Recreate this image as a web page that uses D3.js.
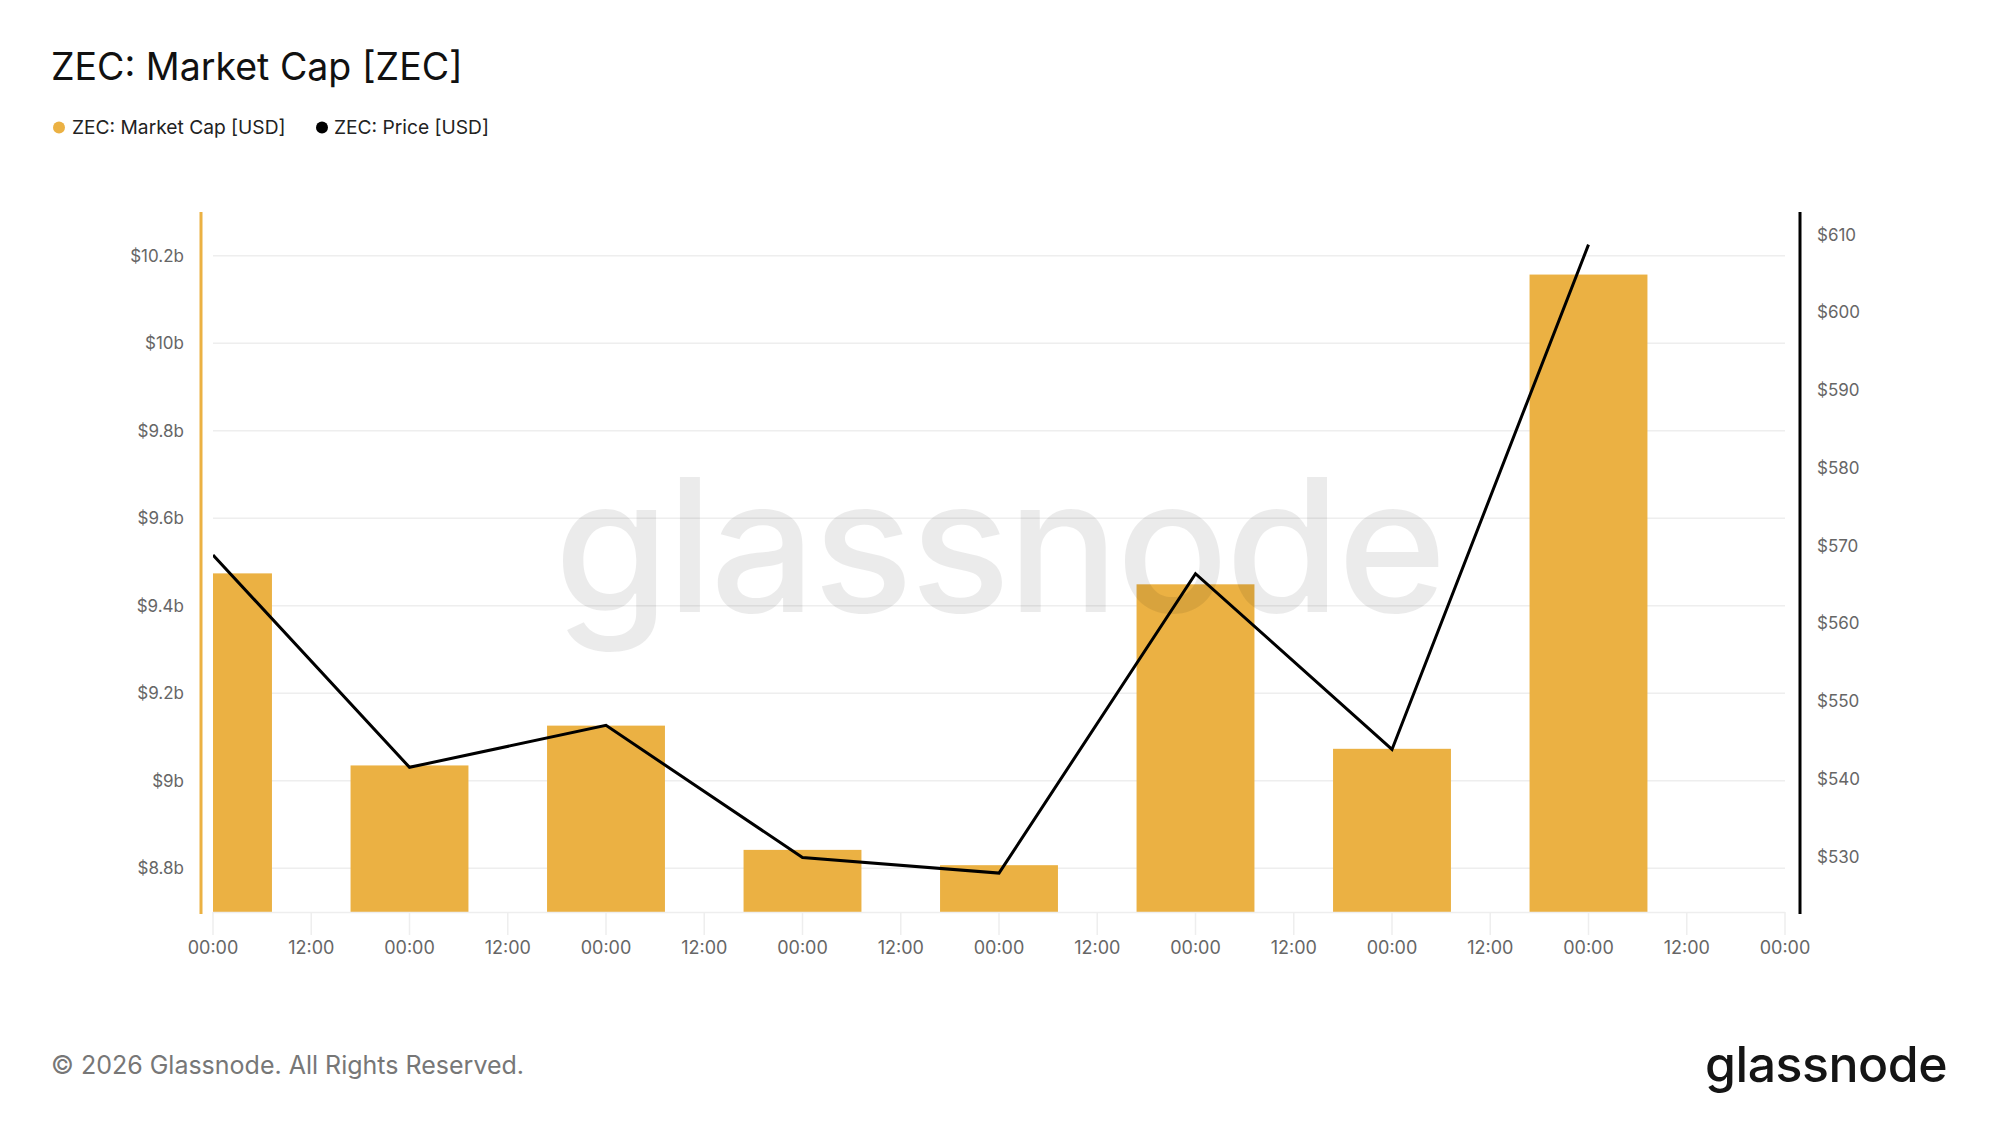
<!DOCTYPE html>
<html>
<head>
<meta charset="utf-8">
<script src="https://cdn.jsdelivr.net/npm/d3@7"></script>
<style>
  html, body { margin: 0; padding: 0; background: #fff; }
  svg { display: block; font-family: Inter, "Noto Sans", sans-serif; }
</style>
</head>
<body>
<svg id="chart" width="1999" height="1125"></svg>
<script>
// ---- data ----
const days = ["2026-01-10", "2026-01-11", "2026-01-12", "2026-01-13", "2026-01-14", "2026-01-15", "2026-01-16", "2026-01-17"];
const marketCap = [9.474e9, 9.035e9, 9.126e9, 8.842e9, 8.807e9, 9.449e9, 9.073e9, 10.157e9];
const price = [568.8, 541.5, 546.9, 529.9, 527.9, 566.4, 543.8, 608.7];
const capTicks = [8.8e9, 9.0e9, 9.2e9, 9.4e9, 9.6e9, 9.8e9, 10.0e9, 10.2e9];
const capTickLabels = ["$8.8b", "$9b", "$9.2b", "$9.4b", "$9.6b", "$9.8b", "$10b", "$10.2b"];
const priceTicks = [530, 540, 550, 560, 570, 580, 590, 600, 610];
const priceTickLabels = ["$530", "$540", "$550", "$560", "$570", "$580", "$590", "$600", "$610"];
const timeTickLabels = ["00:00", "12:00"];
const seriesNames = ["ZEC: Market Cap [USD]", "ZEC: Price [USD]"];
const titleText = "ZEC: Market Cap [ZEC]";
const footerText = "© 2026 Glassnode. All Rights Reserved.";

// ---- layout ----
const W = 1999, H = 1125;
const plot = { left: 213, right: 1785, top: 212, bottom: 912 };
const orange = "#ebb143";

const svg = d3.select("#chart");
const parse = d3.utcParse("%Y-%m-%d");
const dayDates = days.map(parse);
const start = dayDates[0];
const end = d3.utcDay.offset(dayDates[dayDates.length - 1], 1);

const x = d3.scaleUtc().domain([start, end]).range([plot.left, plot.right]);
const yCap = d3.scaleLinear().domain([8.7e9, 10.3e9]).range([plot.bottom, plot.top]);
const yPrice = d3.scaleLinear().domain([522.9, 612.9]).range([plot.bottom, plot.top]);

// title & legend
svg.append("text").attr("x", 51).attr("y", 80).attr("font-size", 37.5).attr("fill", "#111")
  .text(titleText);
const legendItems = [
  { name: seriesNames[0], color: orange, cx: 59, tx: 72 },
  { name: seriesNames[1], color: "#000", cx: 322, tx: 334 }
];
const lg = svg.append("g");
legendItems.forEach(d => {
  lg.append("circle").attr("cx", d.cx).attr("cy", 127.5).attr("r", 6).attr("fill", d.color);
  lg.append("text").attr("x", d.tx).attr("y", 127.5).attr("dy", "0.35em")
    .attr("font-size", 19.2).attr("fill", "#222").text(d.name);
});

// gridlines
const grid = svg.append("g");
grid.selectAll("line").data(capTicks).join("line")
  .attr("x1", plot.left).attr("x2", plot.right)
  .attr("y1", d => yCap(d)).attr("y2", d => yCap(d))
  .attr("stroke", "#eeeeee").attr("stroke-width", 1.5);

// clip
svg.append("clipPath").attr("id", "clip").append("rect")
  .attr("x", plot.left).attr("y", plot.top - 40)
  .attr("width", plot.right - plot.left).attr("height", plot.bottom - plot.top + 40);

const dayW = x(dayDates[1]) - x(dayDates[0]);
const barW = dayW * 0.6;

// bars
svg.append("g").attr("clip-path", "url(#clip)")
  .selectAll("rect").data(marketCap).join("rect")
  .attr("x", (d, i) => x(dayDates[i]) - barW / 2)
  .attr("width", barW)
  .attr("y", d => yCap(d))
  .attr("height", d => plot.bottom - yCap(d))
  .attr("fill", orange);

// price line
const line = d3.line().x((d, i) => x(dayDates[i])).y(d => yPrice(d));
svg.append("path").attr("clip-path", "url(#clip)")
  .datum(price).attr("d", line)
  .attr("fill", "none").attr("stroke", "#000").attr("stroke-width", 3)
  .attr("stroke-linejoin", "miter");

// watermark
svg.append("text").attr("x", 999).attr("y", 612)
  .attr("text-anchor", "middle").attr("font-size", 186).attr("font-weight", 500)
  .attr("font-family", "Inter, sans-serif")
  .attr("fill", "rgba(0,0,0,0.08)").attr("letter-spacing", -3)
  .text("glassnode");

// x axis
const xTicks = d3.utcHour.every(12).range(start, d3.utcHour.offset(end, 1));
const xAxisG = svg.append("g");
xAxisG.append("line").attr("x1", plot.left).attr("x2", plot.right)
  .attr("y1", plot.bottom + 0.5).attr("y2", plot.bottom + 0.5)
  .attr("stroke", "#eeeeee").attr("stroke-width", 1.5);
xAxisG.selectAll("line.tick").data(xTicks).join("line").attr("class", "tick")
  .attr("x1", d => x(d)).attr("x2", d => x(d))
  .attr("y1", plot.bottom).attr("y2", plot.bottom + 23)
  .attr("stroke", "#eeeeee").attr("stroke-width", 1.5);
xAxisG.selectAll("text").data(xTicks).join("text")
  .attr("x", d => x(d)).attr("y", 948).attr("dy", "0.35em")
  .attr("text-anchor", "middle").attr("font-size", 18).attr("fill", "#666")
  .text(d => timeTickLabels[d.getUTCHours() === 0 ? 0 : 1]);

// left axis
svg.append("line").attr("x1", 201).attr("x2", 201).attr("y1", plot.top).attr("y2", plot.bottom + 2)
  .attr("stroke", orange).attr("stroke-width", 3);
svg.append("g").selectAll("text").data(capTicks).join("text")
  .attr("x", 184).attr("y", d => yCap(d)).attr("dy", "0.35em")
  .attr("text-anchor", "end").attr("font-size", 17).attr("fill", "#666")
  .text((d, i) => capTickLabels[i]);

// right axis
svg.append("line").attr("x1", 1800).attr("x2", 1800).attr("y1", plot.top).attr("y2", plot.bottom + 2)
  .attr("stroke", "#000").attr("stroke-width", 3);
svg.append("g").selectAll("text").data(priceTicks).join("text")
  .attr("x", 1817).attr("y", d => yPrice(d)).attr("dy", "0.35em")
  .attr("text-anchor", "start").attr("font-size", 17).attr("fill", "#666")
  .text((d, i) => priceTickLabels[i]);

// footer
svg.append("text").attr("x", 51).attr("y", 1065).attr("dy", "0.35em")
  .attr("font-size", 25).attr("fill", "#777").text(footerText);
svg.append("text").attr("x", 1947).attr("y", 1082)
  .attr("text-anchor", "end").attr("font-size", 50).attr("font-weight", 500)
  .attr("fill", "#151515").attr("letter-spacing", -0.5).text("glassnode");
</script>
</body>
</html>
